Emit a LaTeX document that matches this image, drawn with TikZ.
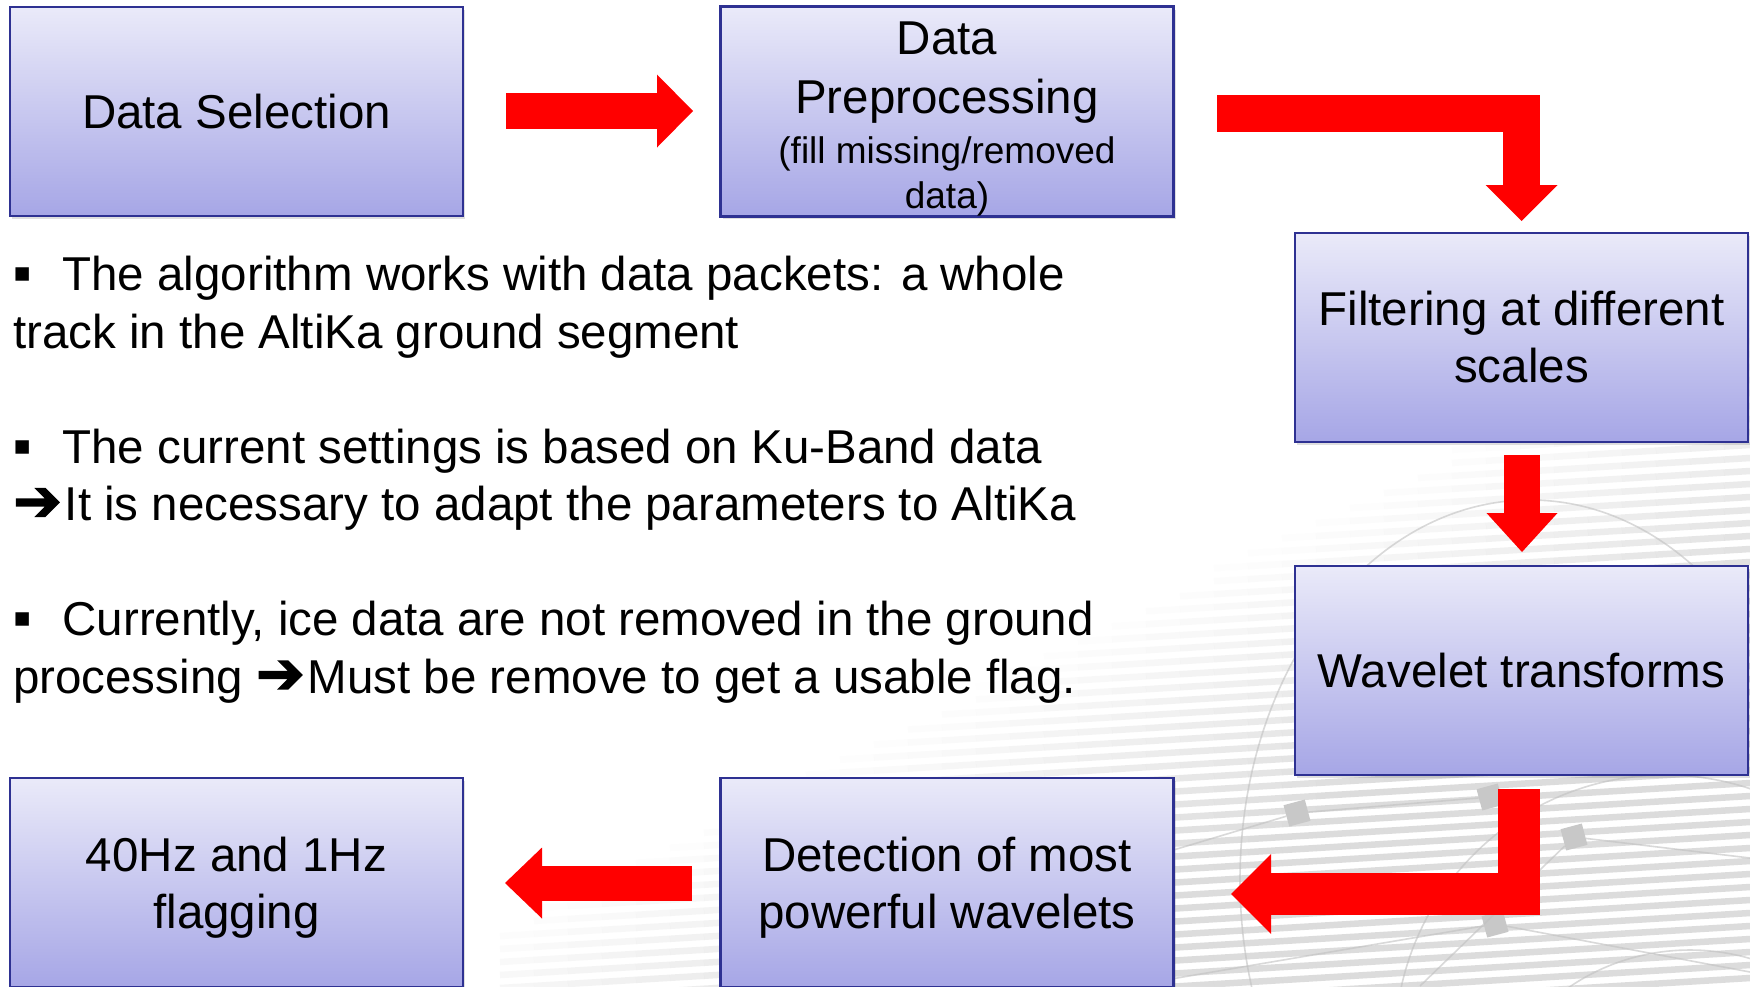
\documentclass[tikz,border=0pt]{standalone}
\usepackage{fontspec}
\setmainfont{Liberation Sans}
\newfontfamily\symfont{DejaVu Sans}
\newfontfamily\symfontb[FakeBold=2.5]{DejaVu Sans}
\usetikzlibrary{arrows.meta,shadows}
\definecolor{boxtop}{RGB}{234,234,249}
\definecolor{boxbot}{RGB}{166,166,230}
\definecolor{boxline}{RGB}{46,49,146}
\definecolor{arrred}{RGB}{255,0,0}
\definecolor{stripecol}{RGB}{212,212,212}
\definecolor{bgline}{RGB}{192,192,192}
\definecolor{bgsq}{RGB}{200,200,200}
\newcommand\bulmark{\raisebox{9pt}{\symfont\fontsize{27}{30}\selectfont ▪}\hspace{31pt}}
\newcommand\arrmark{{\symfontb\fontsize{58}{60}\selectfont ➔}\hspace{3pt}}
\begin{document}
\begin{tikzpicture}[x=1pt,y=-1pt,
  flowbox/.style={draw=boxline, line width=2.5pt, top color=boxtop, bottom color=boxbot,
    minimum width=453pt, minimum height=209pt, inner sep=0pt, align=center,
    font=\fontsize{47.5}{57}\selectfont,
    drop shadow={shadow xshift=2pt, shadow yshift=-3pt, opacity=0.25}},
  blockarrow/.style n args={3}{draw=arrred, line width=#1pt,
    -{Triangle[length=#2pt,width=#3pt,line width=0pt]}},
  notes/.style={align=left, inner sep=0pt, font=\fontsize{47.5}{57.5}\selectfont, anchor=north west},
  bgstroke/.style={draw=bgline, line width=1.6pt, opacity=0.6},
  bgsquare/.style={fill=bgsq, minimum size=22pt, inner sep=0pt, rotate=15}
]
\useasboundingbox (0,0) rectangle (1750,986);
\clip (0,0) rectangle (1750,986);
\fill[white] (0,0) rectangle (1750,986);

% ---- background stripes (faded towards the upper left)
\foreach \k in {0,...,52}{
  \foreach \s in {0,...,36}{
    \pgfmathsetmacro\xa{500+34*\s}
    \pgfmathsetmacro\ya{360+13*\k-0.06*(\xa-1000)}
    \pgfmathsetmacro\op{max(0,min(0.8,(\xa+17+2*\ya-2350)/750))}
    \ifdim\op pt>0.02pt
      \draw[line width=6.5pt, stripecol, opacity=\op] (\xa,\ya) -- ++(34,-2.04);
    \fi
  }
}
% ---- background globe arcs and network
\draw[bgstroke] (1530,880) ellipse [x radius=290pt, y radius=380pt];
\draw[bgstroke] (1665,1045) circle [radius=270pt];
\draw[bgstroke] (1690,1165) circle [radius=215pt];
\node[bgsquare] (sq1) at (1297,813) {};
\node[bgsquare] (sq2) at (1574,837) {};
\node[bgsquare] (sq3) at (1495,924) {};
\node[bgsquare] (sq4) at (1490,797) {};
\coordinate (n1) at (1100,872);
\coordinate (n2) at (1750,858);
\coordinate (n3) at (1750,972);
\coordinate (n4) at (1130,986);
\coordinate (n5) at (1420,986);
\draw[bgstroke] (n1) -- (sq1) -- (sq4);
\draw[bgstroke] (sq2) -- (n2);
\draw[bgstroke] (sq3) -- (n3);
\draw[bgstroke] (n4) -- (sq3);
\draw[bgstroke] (sq2) -- (n5);

% ---- boxes
\node[flowbox] (b1) at (236.5,111.5) {Data Selection};
\node[flowbox] (b2) at (947,111.5) {\rule{0pt}{48pt}Data\\[2pt]Preprocessing\\[-7pt]{\fontsize{37}{44}\selectfont (fill missing/removed}\\[-12pt]{\fontsize{37}{44}\selectfont data)}};
\node[flowbox] (b3) at (1521.5,337.5) {Filtering at different\\scales};
\node[flowbox] (b4) at (1521.5,670.5) {Wavelet transforms};
\node[flowbox] (b5) at (947,882.5) {Detection of most\\\smash{powerful wavelets}};
\node[flowbox] (b6) at (236.5,882.5) {40Hz and 1Hz\\\smash{flagging}};

% ---- block arrows
\coordinate (a1s) at (506,111);   \coordinate (a1e) at (693,111);
\coordinate (a2s) at (1217,113.5); \coordinate (a2e) at (1521.5,221);
\coordinate (a3s) at (1522,455);  \coordinate (a3e) at (1522,552);
\coordinate (a4s) at (1519,789);  \coordinate (a4e) at (1231,894);
\coordinate (a5s) at (692,883);   \coordinate (a5e) at (505,883);
\draw[blockarrow={36}{36}{73}] (a1s) -- (a1e);
\draw[blockarrow={37}{36}{72}] (a2s) -| (a2e);
\draw[blockarrow={36}{39}{71}] (a3s) -- (a3e);
\draw[blockarrow={42}{40}{80}] (a4s) |- (a4e);
\draw[blockarrow={35}{37}{71}] (a5s) -- (a5e);

% ---- notes
\node[notes] (txt) at (13,256) {%
\bulmark The algorithm works with data packets: a whole\\
track in the AltiKa ground segment\\[57.5pt]
\bulmark The current settings is based on Ku-Band data\\
\arrmark It is necessary to adapt the parameters to AltiKa\\[57.5pt]
\bulmark Currently, ice data are not removed in the ground\\
processing \arrmark Must be remove to get a usable flag.};
\end{tikzpicture}
\end{document}
